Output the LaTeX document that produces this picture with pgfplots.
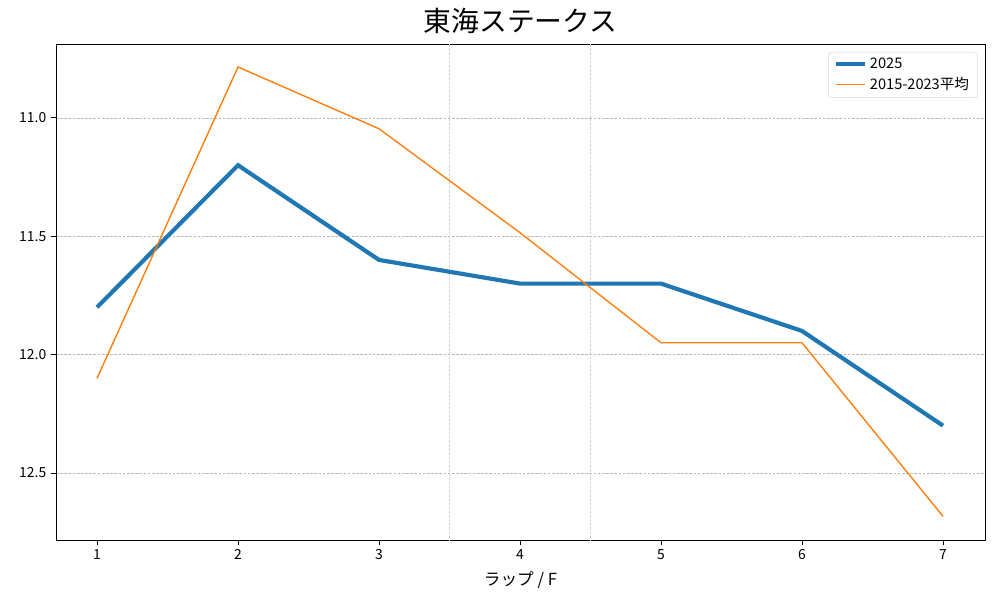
\documentclass[border=0pt]{standalone}
\usepackage{fontspec}
\setmainfont{Noto Sans CJK JP}
\usepackage{pgfplots}
\pgfplotsset{compat=1.18}
\definecolor{cA}{HTML}{1F77B4}
\definecolor{cB}{HTML}{FF7F0E}
\begin{document}
\begin{tikzpicture}[x=0.72pt,y=0.72pt]
\useasboundingbox (-56,-60) rectangle (944,540);
\begin{axis}[
  at={(0,0)}, anchor=south west,
  width=668.88pt, height=357.12pt, scale only axis,
  xmin=0.709, xmax=7.298,
  ymin=10.688, ymax=12.783, y dir=reverse,
  xtick={1,2,3,4,5,6,7},
  ytick={11.0,11.5,12.0,12.5},
  yticklabel style={/pgf/number format/.cd,fixed,fixed zerofill,precision=1},
  /pgf/number format/assume math mode=true,
  tick label style={font=\fontsize{10}{12}\selectfont},
  tick align=outside, tick pos=left,
  major tick length=3.5pt,
  tick style={line width=0.6pt, black},
  ymajorgrids,
  grid style={dash pattern=on 2pt off 1pt, gray!55, line width=0.5pt},
  extra x ticks={3.5,4.5}, extra x tick labels={},
  extra x tick style={grid=major, major tick length=0pt, grid style={dash pattern=on 2pt off 1pt, gray!35, line width=0.5pt}},
  axis line style={line width=0.6pt},
  xlabel={ラップ / F},
  xlabel style={font=\fontsize{12}{14}\selectfont, yshift=2pt},
  title={東海ステークス},
  title style={font=\fontsize{20}{24}\selectfont, yshift=-2pt},
  legend style={at={(0.992,0.984)}, anchor=north east, font=\fontsize{10.5}{12.5}\selectfont, draw=gray!30, rounded corners=2pt, row sep=1pt, inner xsep=4pt},
  legend cell align=left,
]
\addlegendimage{cA, line width=3pt, legend image code/.code={\draw[cA, line width=3pt] (0pt,0pt) -- (21pt,0pt);}}
\addlegendentry{2025}
\addlegendimage{cB, line width=1pt, legend image code/.code={\draw[cB, line width=1pt] (0pt,0pt) -- (21pt,0pt);}}
\addlegendentry{2015-2023平均}
\addplot[cA, line width=3pt, forget plot] coordinates {(1,11.80)(2,11.20)(3,11.60)(4,11.70)(5,11.70)(6,11.90)(7,12.30)};
\addplot[cB, line width=1pt, forget plot] coordinates {(1,12.10)(2,10.785)(3,11.046)(4,11.485)(5,11.95)(6,11.95)(7,12.683)};
\end{axis}
\end{tikzpicture}
\end{document}
